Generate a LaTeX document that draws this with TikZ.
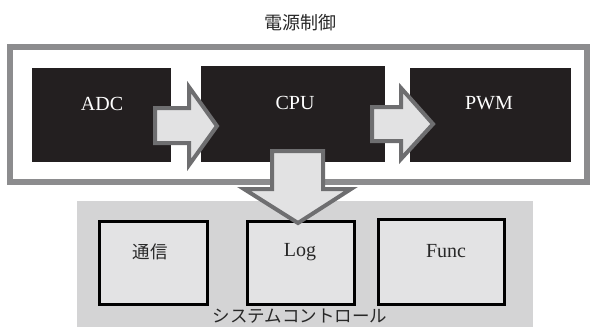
\documentclass[tikz,border=0pt]{standalone}
\usepackage{fontspec}
\setmainfont{Liberation Serif}
\newfontfamily\jp{Noto Sans CJK JP}
\definecolor{frameGray}{RGB}{140,140,142}
\definecolor{boxBlack}{RGB}{35,31,32}
\definecolor{arrowFill}{RGB}{226,226,227}
\definecolor{arrowLine}{RGB}{110,110,112}
\definecolor{panelGray}{RGB}{212,212,213}
\definecolor{subFill}{RGB}{227,227,228}
\definecolor{textGray}{RGB}{40,40,40}
\tikzset{
  blackbox/.style={fill=boxBlack, draw=none, text=white, anchor=north west, inner sep=0pt},
  subbox/.style={fill=subFill, draw=black, line width=2.5pt, anchor=north west, inner sep=0pt},
  whitetext/.style={text=white, font=\fontsize{20}{20}\selectfont, inner sep=0pt},
  darktext/.style={text=textGray, font=\fontsize{20}{20}\selectfont, inner sep=0pt},
  blockarrow/.style={fill=arrowFill, draw=arrowLine, line width=4pt, line join=miter},
  jplabel/.style={font=\jp\fontsize{18}{18}\selectfont, text=textGray, inner sep=0pt}
}
\begin{document}
\begin{tikzpicture}[x=1pt,y=-1pt]
\useasboundingbox (0,0) rectangle (590,327);
% title
\node[jplabel] (title) at (300,23) {電源制御};
% outer frame
\draw[frameGray, line width=6pt] (10,47) rectangle (587,182);
% black boxes
\node[blackbox, minimum width=139pt, minimum height=94pt] (adc) at (32,68) {};
\node[blackbox, minimum width=184pt, minimum height=96pt] (cpu) at (201,66) {};
\node[blackbox, minimum width=161pt, minimum height=94pt] (pwm) at (410,68) {};
\node[whitetext] (adct) at (102,104) {ADC};
\node[whitetext] (cput) at (295,103) {CPU};
\node[whitetext] (pwmt) at (489,103) {PWM};
% bottom panel
\fill[panelGray] (77,201) rectangle (533,327);
\node[subbox, minimum width=108pt, minimum height=83pt] (comm) at (98,220) {};
\node[subbox, minimum width=107pt, minimum height=83pt] (log) at (246,220) {};
\node[subbox, minimum width=126pt, minimum height=85pt] (func) at (377,218) {};
\node[jplabel, font=\jp\fontsize{17.5}{17.5}\selectfont] (commt) at (150,252) {通信};
\node[darktext] (logt) at (300,252) {Log};
\node[darktext] (funct) at (446,251) {Func};
\node[jplabel, font=\jp\fontsize{17.5}{17.5}\selectfont] (sys) at (300,316) {システムコントロール};
% block arrows
\draw[blockarrow] (155,108) -- (189,108) -- (189,87) -- (217,126) -- (189,165) -- (189,143) -- (155,143) -- cycle;
\draw[blockarrow] (372,107) -- (401,107) -- (401,88) -- (433,124) -- (401,159) -- (401,141) -- (372,141) -- cycle;
\draw[blockarrow] (272,151) -- (323,151) -- (323,189) -- (351,189) -- (298,223) -- (244,189) -- (272,189) -- cycle;
\end{tikzpicture}
\end{document}
